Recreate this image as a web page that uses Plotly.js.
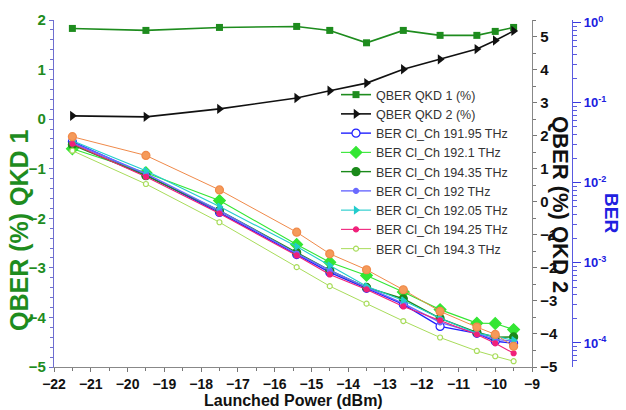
<!DOCTYPE html>
<html>
<head>
<meta charset="utf-8">
<script src="https://cdn.plot.ly/plotly-3.0.1.min.js"></script>
<style>html,body{margin:0;padding:0;background:#fff;}#chart{width:626px;height:410px;}</style>
</head>
<body>
<div id="chart"></div>
<script>
// Launched power (dBm)
const power = [-21.5, -19.5, -17.5, -15.4, -14.5, -13.5, -12.5, -11.5, -10.5, -10, -9.5];

// QBER (%) – left axis QKD 1, right axis QKD 2
const qberQKD1 = [1.83, 1.79, 1.85, 1.87, 1.79, 1.54, 1.79, 1.69, 1.69, 1.77, 1.85];
const qberQKD2 = [2.60, 2.57, 2.81, 3.14, 3.36, 3.59, 4.01, 4.31, 4.62, 4.88, 5.17];

// BER of classical channels (log axis)
const ber19195 = [0.0326, 0.0126, 0.00426, 0.00127, 0.000760, 0.000481, 0.000303, 0.000161, 0.000132, 0.000105, 0.0000991];
const ber1921  = [0.0267, 0.0134, 0.00600, 0.00170, 0.00102, 0.000698, 0.000432, 0.000261, 0.000177, 0.000175, 0.000147];
const ber19435 = [0.0299, 0.0123, 0.00451, 0.00135, 0.000805, 0.000494, 0.000357, 0.000203, 0.000136, 0.000118, 0.000119];
const ber192   = [0.0317, 0.0130, 0.00451, 0.00131, 0.000805, 0.000494, 0.000313, 0.000181, 0.000132, 0.000111, 0.000105];
const ber19205 = [0.0336, 0.0142, 0.00505, 0.00160, 0.000929, 0.000510, 0.000340, 0.000203, 0.000132, 0.000121, 0.000108];
const ber19425 = [0.0308, 0.0119, 0.00413, 0.00124, 0.000718, 0.000467, 0.000286, 0.000192, 0.000128, 0.0000991, 0.0000744];
const ber1943  = [0.0252, 0.00968, 0.00322, 0.000885, 0.000513, 0.000310, 0.000188, 0.000117, 0.0000795, 0.0000683, 0.0000592];
const berOrange = [0.0377, 0.0220, 0.00817, 0.00242, 0.00130, 0.000822, 0.000462, 0.000248, 0.000158, 0.000128, 0.0000910];

// Tick labels
const xTicks = [-22, -21, -20, -19, -18, -17, -16, -15, -14, -13, -12, -11, -10, -9];
const leftTicks = [-5, -4, -3, -2, -1, 0, 1, 2];
const rightTicks = [-5, -4, -3, -2, -1, 0, 1, 2, 3, 4, 5];
const berTickVals = [1, 0.1, 0.01, 0.001, 0.0001];
const berTickText = ['10<sup>0</sup>', '10<sup>-1</sup>', '10<sup>-2</sup>', '10<sup>-3</sup>', '10<sup>-4</sup>'];

const FONT = 'Liberation Sans, Arial, sans-serif';
const W = 626, H = 410, ML = 54, MR = 10, MT = 20, MB = 43;
const PW = W - ML - MR, PH = H - MT - MB;
const px = v => (v - ML) / PW;
const py = v => 1 - (v - MT) / PH;

const berMinor = [];
for (let e = -5; e <= 0; e++) for (let m = 2; m <= 9; m++) berMinor.push(m * Math.pow(10, e));

function berTrace(name, y, color, symbol, size, fill, lw, show) {
  return {
    x: power, y: y, name: name, type: 'scatter', mode: 'lines+markers', yaxis: 'y3',
    showlegend: show !== false,
    line: {color: color, width: lw},
    marker: {symbol: symbol, size: size, color: fill, line: {color: color, width: 1.2}}
  };
}

const data = [
  {x: power, y: qberQKD1, name: 'QBER QKD 1 (%)', type: 'scatter', mode: 'lines+markers', yaxis: 'y',
   line: {color: '#1e8c1e', width: 1.6}, marker: {symbol: 'square', size: 7, color: '#1e8c1e'}},
  {x: power, y: qberQKD2, name: 'QBER QKD 2 (%)', type: 'scatter', mode: 'lines+markers', yaxis: 'y2',
   line: {color: '#111111', width: 1.6}, marker: {symbol: 'triangle-right', size: 9, color: '#111111'}},
  berTrace('BER Cl_Ch 191.95 THz', ber19195, '#2020ff', 'circle', 8, '#ffffff', 1.4),
  berTrace('BER Cl_Ch 192.1 THz', ber1921, '#33e633', 'diamond', 9, '#33e633', 1.1),
  berTrace('BER Cl_Ch 194.35 THz', ber19435, '#1a8a1a', 'circle', 8, '#1a8a1a', 1.4),
  berTrace('BER Cl_Ch 192 THz', ber192, '#6a6aff', 'circle', 5, '#6a6aff', 1.4),
  berTrace('BER Cl_Ch 192.05 THz', ber19205, '#22cccc', 'triangle-right', 6, '#22cccc', 1.1),
  berTrace('BER Cl_Ch 194.25 THz', ber19425, '#f0207a', 'circle', 5, '#f0207a', 1.1),
  berTrace('BER Cl_Ch 194.3 THz', ber1943, '#a8dc5a', 'circle', 5, '#ffffff', 1.0),
  berTrace('BER Cl_Ch (orange)', berOrange, '#f08a4a', 'circle', 8, '#f59a5a', 1.0, false)
];

const layout = {
  width: W, height: H,
  margin: {l: ML, r: MR, t: MT, b: MB, pad: 0},
  paper_bgcolor: '#ffffff', plot_bgcolor: '#ffffff',
  font: {family: FONT, size: 14, color: '#222'},
  showlegend: true,
  legend: {x: px(336), y: py(80), xanchor: 'left', yanchor: 'top', bgcolor: 'rgba(0,0,0,0)',
           font: {family: FONT, size: 12.5, color: '#333'}, tracegroupgap: 0},
  xaxis: {
    domain: [0, (532 - ML) / PW], range: [-22, -9], tickvals: xTicks, ticks: 'outside', ticklen: 4,
    tickcolor: '#777', showline: true, linecolor: '#888', linewidth: 1.2, showgrid: false, zeroline: false,
    tickfont: {family: FONT, size: 14, color: '#111', weight: 'bold'},
    minor: {dtick: 0.5, ticks: 'outside', ticklen: 3, tickcolor: '#777'}
  },
  yaxis: {
    range: [-5, 2], tickvals: leftTicks, ticks: 'outside', ticklen: 4, tickcolor: '#6f6fd0',
    showline: true, linecolor: '#6f6fd0', linewidth: 1.2, showgrid: false, zeroline: false,
    tickfont: {family: FONT, size: 15, color: '#1e8c1e', weight: 'bold'},
    minor: {dtick: 0.2, ticks: 'outside', ticklen: 3, tickcolor: '#6f6fd0'}
  },
  yaxis2: {
    overlaying: 'y', side: 'right', anchor: 'x', range: [-5, 5.5], tickvals: rightTicks,
    ticks: 'outside', ticklen: 4, tickcolor: '#777', showline: true, linecolor: '#888', linewidth: 1.2,
    showgrid: false, zeroline: false,
    tickfont: {family: FONT, size: 15, color: '#111', weight: 'bold'},
    minor: {dtick: 0.5, ticks: 'outside', ticklen: 3, tickcolor: '#777'}
  },
  yaxis3: {
    type: 'log', overlaying: 'y', side: 'right', anchor: 'free', position: px(572),
    range: [-4.3, 0.034], tickvals: berTickVals, ticktext: berTickText,
    ticks: 'outside', ticklen: 8, tickcolor: '#3a3ae0', showline: true, linecolor: '#5a5ae0', linewidth: 1.2,
    showgrid: false, zeroline: false,
    tickfont: {family: FONT, size: 13, color: '#2020e0', weight: 'bold'},
    minor: {tickvals: berMinor, ticks: 'outside', ticklen: 4, tickcolor: '#5a5ae0'}
  },
  annotations: [
    {text: 'Launched Power (dBm)', xref: 'paper', yref: 'paper', x: px(293), y: py(400.5),
     showarrow: false, xanchor: 'center', yanchor: 'middle',
     font: {family: FONT, size: 16, color: '#111', weight: 'bold'}},
    {text: 'QBER (%) QKD 1', xref: 'paper', yref: 'paper', x: px(19), y: py(230),
     showarrow: false, textangle: -90, xanchor: 'center', yanchor: 'middle',
     font: {family: FONT, size: 25, color: '#1e8c1e', weight: 'bold'}},
    {text: 'QBER (%) QKD 2', xref: 'paper', yref: 'paper', x: px(561), y: py(204),
     showarrow: false, textangle: 90, xanchor: 'center', yanchor: 'middle',
     font: {family: FONT, size: 22, color: '#111', weight: 'bold'}},
    {text: 'BER', xref: 'paper', yref: 'paper', x: px(612), y: py(213),
     showarrow: false, textangle: 90, xanchor: 'center', yanchor: 'middle',
     font: {family: FONT, size: 19, color: '#2020e0', weight: 'bold'}}
  ]
};

Plotly.newPlot('chart', data, layout, {displayModeBar: false, staticPlot: true});
</script>
</body>
</html>
